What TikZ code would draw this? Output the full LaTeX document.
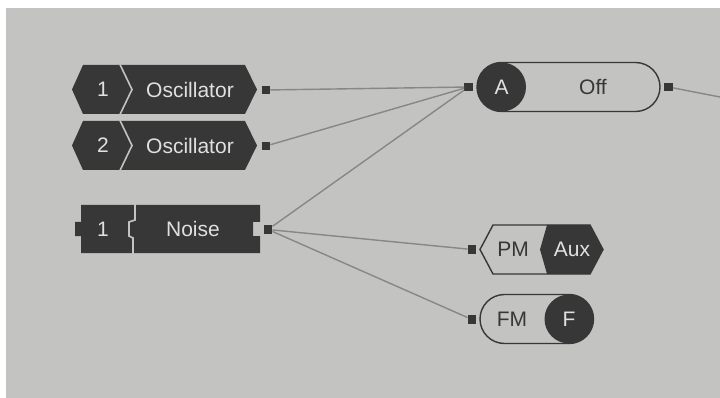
\documentclass[tikz,border=0pt]{standalone}
\usepackage{fontspec}
\setmainfont{Liberation Sans}
\usetikzlibrary{positioning,calc}
\definecolor{canvas}{HTML}{C3C3C1}
\definecolor{body}{HTML}{373737}
\definecolor{ink}{HTML}{E0E0E0}
\definecolor{wire}{HTML}{878785}

\begin{document}
\begin{tikzpicture}[
  x=1pt, y=-1pt,
  font=\fontsize{21}{25}\selectfont,
  port/.style={fill=body, minimum size=8.5pt, inner sep=0pt},
  lbl/.style={text=ink, inner sep=0pt},
  dlbl/.style={text=body, inner sep=0pt},
  link/.style={draw=wire, line width=1.4pt},
  rim/.style={draw=body, line width=1.4pt},
  cut/.style={draw=canvas, line width=1.6pt}
]
\useasboundingbox (0,0) rectangle (720,398);
\fill[canvas] (6,8) rectangle (720,398);

% oscillator blocks
\foreach \i/\y in {1/89.5, 2/145.5} {
  \fill[body] (72,\y) -- (83,\y-24.5) -- (245,\y-24.5) -- (257,\y) -- (245,\y+24.5) -- (83,\y+24.5) -- cycle;
  \draw[cut] (120,\y-25) -- (132,\y) -- (120,\y+25);
  \node[lbl] (osc\i num) at (103,\y) {\i};
  \node[lbl] (osc\i name) at (190,\y) {Oscillator};
  \node[port] (osc\i out) at (266,\y+0.5) {};
}

% noise block
\fill[body] (81,205) -- (260,205) -- (260,222) -- (253,222) -- (253,236) -- (260,236) -- (260,253)
  -- (81,253) -- (81,236) -- (75,236) -- (75,222) -- (81,222) -- cycle;
\draw[cut] (135,204) -- (135,220) -- (129,222) -- (129,236) -- (133,238) -- (133,254);
\node[lbl] (noisenum) at (103,229) {1};
\node[lbl] (noisename) at (193,229) {Noise};
\node[port] (noiseout) at (268,229.5) {};

% A / Off
\draw[rim, rounded corners=24.5pt] (477,62.5) rectangle (660,111.5);
\fill[body] (501.5,87) circle[radius=24.5];
\node[lbl] (aname) at (501.5,87) {A};
\node[dlbl] (astate) at (593,87) {Off};
\node[port] (ain) at (468.5,87) {};
\node[port] (aout) at (668.5,87) {};

% PM / Aux
\draw[rim] (480,249.5) -- (493,225) -- (590,225) -- (603,249.5) -- (590,274) -- (493,274) -- cycle;
\fill[body] (540,249.5) -- (547,225) -- (590,225) -- (603,249.5) -- (590,274) -- (547,274) -- cycle;
\node[dlbl] (pmname) at (513,249.5) {PM};
\node[lbl] (pmsrc) at (572,249.5) {Aux};
\node[port] (pmin) at (472,249.5) {};

% FM / F
\draw[rim, rounded corners=24.5pt] (480,294.5) rectangle (593.5,343.5);
\fill[body] (569,319) circle[radius=24.5];
\node[dlbl] (fmname) at (512,319) {FM};
\node[lbl] (fmsrc) at (569,319) {F};
\node[port] (fmin) at (472,319.5) {};

\coordinate (offedge) at (720,97);

\draw[link] (osc1out) -- (ain);
\draw[link] (osc2out) -- (ain);
\draw[link] (noiseout) -- (ain);
\draw[link] (noiseout) -- (pmin);
\draw[link] (noiseout) -- (fmin);
\draw[link] (aout) -- (offedge);
\end{tikzpicture}
\end{document}
